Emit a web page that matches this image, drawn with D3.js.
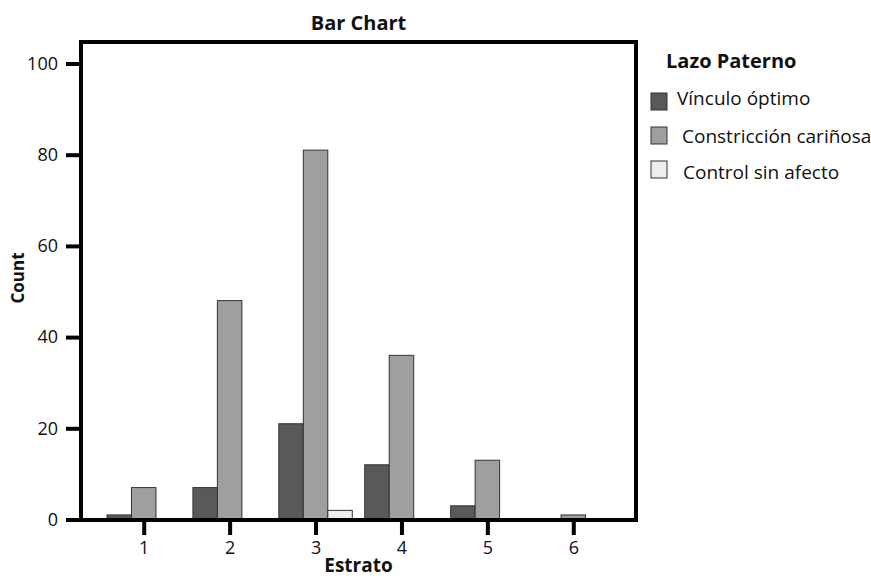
<!DOCTYPE html>
<html><head><meta charset="utf-8">
<script src="https://cdn.jsdelivr.net/npm/d3@7"></script>
<style>body{margin:0;background:#fff}svg{display:block}text{font-family:"Open Sans",sans-serif;fill:#111}</style>
</head><body><svg id="c" width="871" height="579"></svg>
<script>
const categories = ["1","2","3","4","5","6"];
const seriesNames = ["Vínculo óptimo","Constricción cariñosa","Control sin afecto"];
const vinculo = [1,7,21,12,3,0];
const constriccion = [7,48,81,36,13,1];
const control = [0,0,2,0,0,0];
const yTicks = [0,20,40,60,80,100];
const colors = ["#59595b","#9e9fa1","#eeeeee"];
const series = [vinculo, constriccion, control];

const svg = d3.select("#c");
const L=81,R=636,T=42,B=520;
const x = d3.scalePoint().domain(categories).range([L,R]).padding(0.73);
const y = d3.scaleLinear().domain([0,100]).range([519.5,63.5]);
const bw = x.step()*0.285;

// bars
series.forEach((vals,si)=>{
  svg.append("g").selectAll("rect").data(categories.map((c,i)=>({c,v:vals[i]})).filter(d=>d.v>0))
    .join("rect")
    .attr("x",d=>x(d.c)+(si-1.5)*bw)
    .attr("width",bw)
    .attr("y",d=>y(d.v))
    .attr("height",d=>B-y(d.v))
    .attr("fill",colors[si])
    .attr("stroke","#333").attr("stroke-width",1);
});

// frame
svg.append("rect").attr("x",L).attr("y",T).attr("width",R-L).attr("height",B-T)
  .attr("fill","none").attr("stroke","#000").attr("stroke-width",4);

// y axis
const ya = svg.append("g").attr("transform",`translate(${L},0)`)
  .call(d3.axisLeft(y).tickValues(yTicks).tickSize(15).tickPadding(8).tickFormat(d3.format("d")));
ya.select(".domain").remove();
ya.selectAll("line").attr("stroke","#000").attr("stroke-width",4);
ya.selectAll("text").attr("font-size",18).attr("font-family","Open Sans").attr("fill","#111");

// x axis
const xa = svg.append("g").attr("transform",`translate(0,${B})`)
  .call(d3.axisBottom(x).tickSize(15).tickPadding(6));
xa.select(".domain").remove();
xa.selectAll("line").attr("stroke","#000").attr("stroke-width",4);
xa.selectAll("text").attr("font-size",18).attr("font-family","Open Sans").attr("fill","#111");

// titles
svg.append("text").attr("x",(L+R)/2).attr("y",30).attr("text-anchor","middle")
  .attr("font-size",20).attr("font-weight","bold").text("Bar Chart");
svg.append("text").attr("x",(L+R)/2).attr("y",572).attr("text-anchor","middle")
  .attr("font-size",19).attr("font-weight","bold").text("Estrato");
svg.append("text").attr("transform","translate(24,278) rotate(-90)").attr("text-anchor","middle")
  .attr("font-size",17).attr("font-weight","bold").text("Count");

// legend
svg.append("text").attr("x",666).attr("y",68).attr("font-size",20).attr("font-weight","bold").text("Lazo Paterno");
const ly=[93,127,161], tyc=[100,138,174], tx=[677,682,683];
seriesNames.forEach((n,i)=>{
  svg.append("rect").attr("x",651).attr("y",ly[i]).attr("width",16).attr("height",17)
    .attr("fill",colors[i]).attr("stroke","#333").attr("stroke-width",1);
  svg.append("text").attr("x",tx[i]).attr("y",tyc[i]).attr("dominant-baseline","middle")
    .attr("font-size",19).text(n);
});
</script></body></html>
